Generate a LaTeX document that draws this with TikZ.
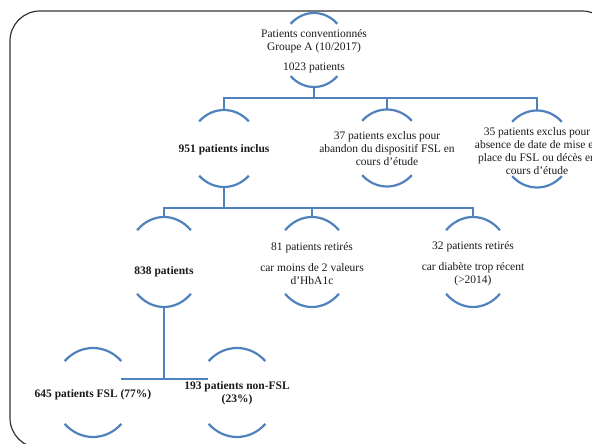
\documentclass[tikz,border=0pt]{standalone}
\usepackage{fontspec}
\setmainfont{Liberation Serif}
\usepackage{xcolor}
\definecolor{chartblue}{HTML}{4F81BD}
\definecolor{txtgray}{HTML}{1A1A1A}

\begin{document}
\begin{tikzpicture}[x=1pt,y=1pt,
    branch/.style={draw=chartblue,line width=2.4pt},
    ring/.style={draw=chartblue,line width=2.2pt},
    lvlA/.style={minimum width=66pt,minimum height=74pt,inner sep=0pt},
    lvlB/.style={minimum width=70pt,minimum height=77pt,inner sep=0pt},
    lvlC/.style={minimum width=76pt,minimum height=90pt,inner sep=0pt},
    lvlD/.style={minimum width=80pt,minimum height=89pt,inner sep=0pt},
    lbl/.style={text=txtgray,align=center,inner sep=0pt,font=\fontsize{11.5}{13}\selectfont},
    lblb/.style={lbl,font=\fontsize{11.5}{13}\selectfont\bfseries}]
  \useasboundingbox (0,0) rectangle (592,444);
  \clip (0,0) rectangle (592,444);
  \draw[line width=1.2pt,draw=black!80,rounded corners=30pt] (10,-4) rectangle (612,433);

  \node[lvlA] (top) at (314,394) {};
  \node[lvlB] (inclus) at (224,295.5) {};
  \node[lvlB] (abandon) at (387,296) {};
  \node[lvlB] (absence) at (537,295) {};
  \node[lvlC] (p838) at (164,182) {};
  \node[lvlC] (hba) at (312,182) {};
  \node[lvlC] (recent) at (473,182) {};
  \node[lvlD] (fsl) at (93,51.5) {};
  \node[lvlD] (nonfsl) at (237,51.5) {};

  \foreach \n/\a/\b in {top/33/37,inclus/35/38.5,abandon/35/38.5,absence/35/38.5,
      p838/38/45,hba/38/45,recent/38/45,fsl/40/44.5,nonfsl/40/44.5} {
    \draw[ring] (\n.center) ++({\a*cos(45)},{\b*sin(45)}) arc[start angle=45,end angle=135,x radius=\a,y radius=\b];
    \draw[ring] (\n.center) ++({\a*cos(225)},{\b*sin(225)}) arc[start angle=225,end angle=315,x radius=\a,y radius=\b];
  }

  \draw[branch] (top.south) -- ++(0,-11) coordinate (j1);
  \draw[branch] (inclus.north) |- (j1) -| (absence.north);
  \draw[branch] (abandon.north) -- (abandon.north |- j1);
  \draw[branch] (inclus.south) -- ++(0,-21) coordinate (j2);
  \draw[branch] (p838.north) |- (j2) -| (recent.north);
  \draw[branch] (hba.north) -- (hba.north |- j2);
  \draw[branch] (p838.south) -- ++(0,-72) coordinate (j3);
  \coordinate (l3) at (121,65);
  \coordinate (r3) at (208,65);
  \draw[branch] (l3) -- (r3);

  \node[lbl] (topT) at (314,392.5) {Patients conventionnés\\Groupe A (10/2017)\\[7pt]1023 patients};
  \node[lblb] (inclusT) at (224,294) {951 patients inclus};
  \node[lbl] (abandonT) at (387,295) {37 patients exclus pour\\abandon du dispositif FSL en\\cours d'étude};
  \node[lbl] (absenceT) at (537,293) {35 patients exclus pour\\absence de date de mise en\\place du FSL ou décès en\\cours d'étude};
  \node[lblb] (p838T) at (164,172) {838 patients};
  \node[lbl] (hbaT) at (312,180.5) {81 patients retirés\\[8pt]car moins de 2 valeurs\\d'HbA1c};
  \node[lbl] (recentT) at (473,180.5) {32 patients retirés\\[8pt]car diabète trop récent\\(>2014)};
  \node[lblb] (fslT) at (93,49) {645 patients FSL (77\%)};
  \node[lblb] (nonfslT) at (237,50.5) {193 patients non-FSL\\(23\%)};
\end{tikzpicture}
\end{document}
